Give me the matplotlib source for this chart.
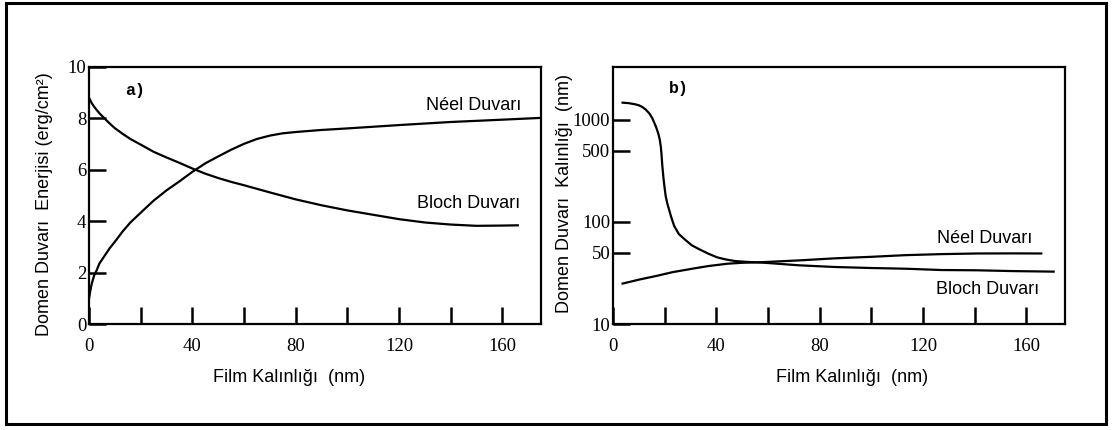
import matplotlib
matplotlib.use('Agg')
import matplotlib.pyplot as plt
from matplotlib.patches import Rectangle
from matplotlib.ticker import FixedLocator, FixedFormatter

# panel a) domain wall energy (erg/cm^2) vs film thickness (nm)
neel_a_x = [0, 0.5, 1, 2, 3, 4, 6, 8, 10, 13, 16, 20, 25, 30, 35, 40, 45, 50, 55, 60,
            65, 70, 75, 80, 90, 100, 120, 140, 160, 175]
neel_a_y = [1.0, 1.3, 1.55, 1.9, 2.1, 2.35, 2.65, 2.95, 3.2, 3.6, 3.95, 4.33, 4.8, 5.2, 5.55, 5.92,
            6.25, 6.52, 6.78, 7.01, 7.2, 7.33, 7.42, 7.47, 7.55, 7.61, 7.74, 7.86, 7.95, 8.02]
bloch_a_x = [0, 1, 2, 4, 6, 8, 10, 13, 16, 20, 25, 30, 35, 40, 45, 50, 55, 60, 70, 80,
             90, 100, 110, 120, 130, 140, 150, 160, 166]
bloch_a_y = [8.8, 8.6, 8.45, 8.2, 8.0, 7.8, 7.62, 7.4, 7.2, 6.98, 6.7, 6.48, 6.27, 6.05, 5.85,
             5.68, 5.53, 5.4, 5.12, 4.85, 4.62, 4.42, 4.25, 4.08, 3.95, 3.87, 3.82, 3.83, 3.84]

# panel b) domain wall thickness (nm), log scale
wall1_x = [3.7, 6, 8.6, 10, 11.3, 12.7, 14.1, 15.2, 16.1, 16.9, 17.5, 18.1, 18.5, 18.8, 19.0,
           19.3, 19.6, 20.0, 20.4, 21.0, 21.7, 22.6, 23.7, 25.5, 27.9, 30.5, 33.4, 36.8, 40.3,
           43.5, 47.2, 52, 58.2, 72, 85.8, 99.6, 113.4, 127.2, 141, 154.8, 170.6]
wall1_y = [1476, 1460, 1422, 1390, 1340, 1260, 1153, 1040, 921, 820, 736, 640, 546, 450, 376,
           310, 258, 212, 178, 152, 132, 110, 91, 76, 67, 59, 54, 49, 45,
           43, 41.4, 40.6, 39.9, 37.6, 36.2, 35.4, 34.8, 33.8, 33.6, 33.0, 32.6]
wall2_x = [3.7, 10, 16.8, 23, 30.6, 37, 44.4, 50, 58.2, 65, 72, 85.8, 99.6, 113.4, 127.2, 141,
           155, 165.8]
wall2_y = [24.9, 27.2, 29.6, 32.2, 34.8, 37.0, 39.0, 39.8, 40.4, 41.2, 42.0, 44.0, 45.5, 47.3,
           48.4, 49.1, 49.2, 49.1]

x_ticks = [0, 20, 40, 60, 80, 100, 120, 140, 160]
x_labels = ['0', '', '40', '', '80', '', '120', '', '160']
ya_ticks = [0, 2, 4, 6, 8, 10]
yb_ticks = [10, 50, 100, 500, 1000]

serif = 'Liberation Serif'
sans = ['Liberation Sans Narrow', 'Liberation Sans', 'DejaVu Sans']

fig = plt.figure(figsize=(11.13, 4.30), dpi=100)
fig.patch.set_facecolor('white')
fig.patches.append(Rectangle((0.0054, 0.014), 0.9883, 0.979, transform=fig.transFigure,
                             fill=False, edgecolor='black', linewidth=2.2))

axa = fig.add_axes([0.0800, 0.2465, 0.4061, 0.5977])
axb = fig.add_axes([0.5508, 0.2465, 0.4061, 0.5977])

axa.plot(neel_a_x, neel_a_y, color='black', lw=1.6)
axa.plot(bloch_a_x, bloch_a_y, color='black', lw=1.6)
axa.set_xlim(0, 175)
axa.set_ylim(0, 10)
axa.yaxis.set_major_locator(FixedLocator(ya_ticks))

axb.plot(wall1_x, wall1_y, color='black', lw=1.6)
axb.plot(wall2_x, wall2_y, color='black', lw=1.6)
axb.set_yscale('log')
axb.set_xlim(0, 175)
axb.set_ylim(10, 3300)
axb.yaxis.set_major_locator(FixedLocator(yb_ticks))
axb.yaxis.set_major_formatter(FixedFormatter([str(v) for v in yb_ticks]))
axb.yaxis.set_minor_locator(FixedLocator([]))

for ax in (axa, axb):
    ax.xaxis.set_major_locator(FixedLocator(x_ticks))
    ax.xaxis.set_major_formatter(FixedFormatter(x_labels))
    ax.tick_params(direction='in', length=12, width=1.8, labelsize=13.5, pad=2)
    ax.tick_params(axis='x', pad=10)
    for lab in ax.get_xticklabels() + ax.get_yticklabels():
        lab.set_family(serif)
    for s in ax.spines.values():
        s.set_linewidth(1.6)

axa.text(14, 9.1, 'a)', family='Liberation Mono', weight='bold', fontsize=12, va='center')
axa.text(149, 8.5, 'Néel Duvarı', family=sans, fontsize=13, va='center', ha='center')
axa.text(147, 4.7, 'Bloch Duvarı', family=sans, fontsize=13, va='center', ha='center')

axb.text(21.7, 2018, 'b)', family='Liberation Mono', weight='bold', fontsize=12, va='center')
axb.text(144, 69, 'Néel Duvarı', family=sans, fontsize=13, va='center', ha='center')
axb.text(145, 21.6, 'Bloch Duvarı', family=sans, fontsize=13, va='center', ha='center')

fig.text(0.040, 0.526, 'Domen Duvarı  Enerjisi (erg/cm²)', family=sans, fontsize=13,
         rotation=90, ha='center', va='center')
fig.text(0.5076, 0.549, 'Domen Duvarı  Kalınlığı  (nm)', family=sans, fontsize=13,
         rotation=90, ha='center', va='center')
fig.text(0.2597, 0.121, 'Film Kalınlığı  (nm)', family=sans, fontsize=13, ha='center', va='center')
fig.text(0.7655, 0.121, 'Film Kalınlığı  (nm)', family=sans, fontsize=13, ha='center', va='center')

fig.savefig('out.png', dpi=100, facecolor='white')
